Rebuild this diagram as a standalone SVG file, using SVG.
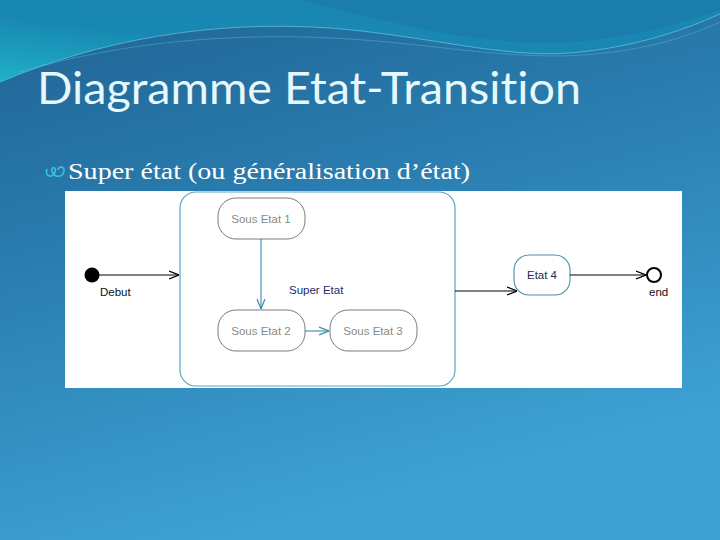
<svg xmlns="http://www.w3.org/2000/svg" width="720" height="540" viewBox="0 0 720 540">
<defs>
  <linearGradient id="bg" x1="0" y1="0" x2="0.35" y2="1">
    <stop offset="0" stop-color="#1f6393"/>
    <stop offset="0.45" stop-color="#2a7db0"/>
    <stop offset="1" stop-color="#3ea2d4"/>
  </linearGradient>
  <linearGradient id="teal" x1="0" y1="1" x2="1" y2="0">
    <stop offset="0" stop-color="#20b0c8"/>
    <stop offset="0.4" stop-color="#1888b2"/>
    <stop offset="1" stop-color="#1b86b4"/>
  </linearGradient>
  <marker id="ahk" viewBox="0 0 10 10" refX="10" refY="5" markerWidth="10" markerHeight="10" markerUnits="userSpaceOnUse" orient="auto">
    <path d="M0,1 L10,5 L0,9" fill="none" stroke="#000" stroke-width="1.2"/>
  </marker>
  <marker id="aht" viewBox="0 0 10 10" refX="10" refY="5" markerWidth="10" markerHeight="10" markerUnits="userSpaceOnUse" orient="auto">
    <path d="M0,1 L10,5 L0,9" fill="none" stroke="#3a8aa8" stroke-width="1.2"/>
  </marker>
  <style>
    .title{font-family:Lato,"Open Sans",sans-serif;font-size:45px;fill:#e6f8fc;font-variant-ligatures:none;font-feature-settings:"liga" 0,"clig" 0,"dlig" 0}
    .sub{font-family:"Liberation Serif",serif;font-size:24px;fill:#ffffff}
    .lbl{font-family:"Liberation Sans",Arial,sans-serif;font-size:11.5px}
    .sous rect{fill:#fff;stroke:#7a7a7a;stroke-width:1}
    .sous text{fill:#8a8a8a;text-anchor:middle}
    .conn{fill:none;stroke-width:1.1}
  </style>
</defs>
<rect width="720" height="540" fill="url(#bg)"/>
<path d="M0,0 L720,0 L720,14 C680,32 630,48 570,53 C500,58 430,36 330,28 C210,20 100,40 0,82 Z" fill="url(#teal)"/>
<path d="M300,0 C380,20 450,38 520,42 C600,46 660,30 720,10 L720,0 Z" fill="#1a7aa8" opacity="0.8"/>
<path d="M0,82 C100,40 210,20 330,28 C430,36 500,58 570,53 C630,48 680,32 720,14" fill="none" stroke="#6fd6e6" stroke-width="1" opacity="0.6"/>
<path d="M20,72 C120,42 230,33 330,38 C420,42 480,56 560,56 C640,54 690,36 720,22" fill="none" stroke="#5cc8dc" stroke-width="0.8" opacity="0.5"/>

<text class="title" x="37" y="104" textLength="544" lengthAdjust="spacingAndGlyphs">Diagramme Etat-Transition</text>

<g id="bullet">
  <path d="M47,169 C44,176 52,179 55,172 C57,167 51,166 52,171 C54,178 63,178 64,171 C65,166 58,166 58,170" fill="none" stroke="#3cc2da" stroke-width="1.6"/>
</g>
<text class="sub" x="68" y="179" textLength="402" lengthAdjust="spacingAndGlyphs">Super état (ou généralisation d’état)</text>

<rect x="65" y="191" width="617" height="197" fill="#ffffff"/>

<g id="super-etat">
  <rect x="180" y="192" width="275" height="194" rx="16" fill="#fff" stroke="#5aa6c0" stroke-width="1.2"/>
  <text class="lbl" x="289" y="294" fill="#1c2a6c">Super Etat</text>
</g>
<g id="sous-etat-1" class="sous">
  <rect x="218" y="198" width="87" height="41" rx="18"/>
  <text class="lbl" x="261" y="223">Sous Etat 1</text>
</g>
<g id="sous-etat-2" class="sous">
  <rect x="218" y="310" width="87" height="41" rx="18"/>
  <text class="lbl" x="261" y="335">Sous Etat 2</text>
</g>
<g id="sous-etat-3" class="sous">
  <rect x="330" y="310" width="87" height="41" rx="18"/>
  <text class="lbl" x="373" y="335">Sous Etat 3</text>
</g>
<g id="debut">
  <circle cx="92" cy="275" r="7.5" fill="#000"/>
  <text class="lbl" x="100" y="296" fill="#111">Debut</text>
</g>
<g id="etat-4">
  <rect x="514" y="255" width="56" height="40" rx="15" fill="#fff" stroke="#4a8fa5" stroke-width="1.1"/>
  <text class="lbl" x="542" y="279" fill="#1c2a5a" text-anchor="middle">Etat 4</text>
</g>
<g id="end">
  <circle cx="654" cy="275" r="7" fill="#fff" stroke="#000" stroke-width="2"/>
  <text class="lbl" x="649" y="296" fill="#111">end</text>
</g>

<g id="connectors">
  <line class="conn" x1="99" y1="275" x2="179" y2="275" stroke="#000" marker-end="url(#ahk)"/>
  <line class="conn" x1="261" y1="239" x2="261" y2="309" stroke="#3a8aa8" marker-end="url(#aht)"/>
  <line class="conn" x1="305" y1="331" x2="329" y2="331" stroke="#3a8aa8" marker-end="url(#aht)"/>
  <line class="conn" x1="455" y1="291" x2="517" y2="291" stroke="#000" marker-end="url(#ahk)"/>
  <line class="conn" x1="570" y1="275" x2="646" y2="275" stroke="#000" marker-end="url(#ahk)"/>
</g>
</svg>
